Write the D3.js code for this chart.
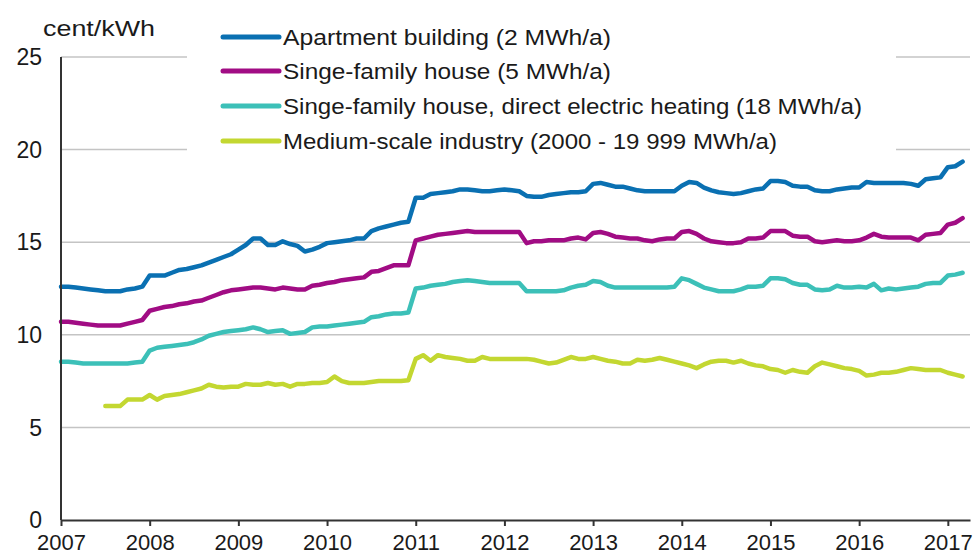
<!DOCTYPE html>
<html>
<head>
<meta charset="utf-8">
<script src="https://cdn.jsdelivr.net/npm/d3@7/dist/d3.min.js"></script>
<style>
  html, body { margin: 0; padding: 0; background: #fff; }
  svg { display: block; font-family: "Liberation Sans", Arial, sans-serif; }
</style>
</head>
<body>
<svg id="chart" width="977" height="557"></svg>
<script>
// ---- data (monthly, Jan 2007 .. Mar 2017) ----
const startYear = 2007;
const years = [2007, 2008, 2009, 2010, 2011, 2012, 2013, 2014, 2015, 2016, 2017];
const yTicks = [0, 5, 10, 15, 20, 25];
const seriesNames = [
  "Apartment building (2 MWh/a)",
  "Singe-family house (5 MWh/a)",
  "Singe-family house, direct electric heating (18 MWh/a)",
  "Medium-scale industry (2000 - 19 999 MWh/a)"
];
const seriesColors = ["#0a70b2", "#a10c84", "#3cc0b8", "#c3d731"];

const apartment = [
  12.6, 12.6, 12.55, 12.5, 12.45, 12.4, 12.35, 12.35, 12.35, 12.45, 12.5, 12.6,
  13.2, 13.2, 13.2, 13.35, 13.5, 13.55, 13.65, 13.75, 13.9, 14.05, 14.2, 14.35,
  14.6, 14.85, 15.2, 15.2, 14.85, 14.85, 15.05, 14.9, 14.8, 14.5, 14.6, 14.75,
  14.95, 15.0, 15.05, 15.1, 15.2, 15.2, 15.6, 15.75, 15.85, 15.95, 16.05, 16.1,
  17.4, 17.4, 17.6, 17.65, 17.7, 17.75, 17.85, 17.85, 17.8, 17.75, 17.75, 17.8,
  17.85, 17.8, 17.75, 17.5, 17.45, 17.45, 17.55, 17.6, 17.65, 17.7, 17.7, 17.75,
  18.15, 18.2, 18.1, 18.0, 18.0, 17.9, 17.8, 17.75, 17.75, 17.75, 17.75, 17.75,
  18.05, 18.25, 18.2, 17.95, 17.8, 17.7, 17.65, 17.6, 17.65, 17.75, 17.85, 17.9,
  18.3, 18.3, 18.25, 18.05, 18.0, 18.0, 17.8, 17.75, 17.75, 17.85, 17.9, 17.95,
  17.95, 18.25, 18.2, 18.2, 18.2, 18.2, 18.2, 18.15, 18.05, 18.4, 18.45, 18.5,
  19.05, 19.1, 19.35
];
const singleFamily = [
  10.7, 10.7, 10.65, 10.6, 10.55, 10.5, 10.5, 10.5, 10.5, 10.6, 10.7, 10.8,
  11.3, 11.4, 11.5, 11.55, 11.65, 11.7, 11.8, 11.85, 12.0, 12.15, 12.3, 12.4,
  12.45, 12.5, 12.55, 12.55, 12.5, 12.45, 12.55, 12.5, 12.45, 12.45, 12.65, 12.7,
  12.8, 12.85, 12.95, 13.0, 13.05, 13.1, 13.4, 13.45, 13.6, 13.75, 13.75, 13.75,
  15.1, 15.2, 15.3, 15.4, 15.45, 15.5, 15.55, 15.6, 15.55, 15.55, 15.55, 15.55,
  15.55, 15.55, 15.55, 14.95, 15.05, 15.05, 15.1, 15.1, 15.1, 15.2, 15.25, 15.15,
  15.5, 15.55, 15.45, 15.3, 15.25, 15.2, 15.2, 15.1, 15.05, 15.15, 15.2, 15.2,
  15.55, 15.6, 15.45, 15.2, 15.05, 15.0, 14.95, 14.95, 15.0, 15.2, 15.2, 15.25,
  15.6, 15.6, 15.6, 15.35, 15.3, 15.3, 15.05, 15.0, 15.05, 15.1, 15.05, 15.05,
  15.1, 15.25, 15.45, 15.3, 15.25, 15.25, 15.25, 15.25, 15.1, 15.4, 15.45, 15.5,
  15.95, 16.05, 16.3
];
const electricHeating = [
  8.55, 8.55, 8.5, 8.45, 8.45, 8.45, 8.45, 8.45, 8.45, 8.45, 8.5, 8.55,
  9.15, 9.3, 9.35, 9.4, 9.45, 9.5, 9.6, 9.75, 9.95, 10.05, 10.15, 10.2,
  10.25, 10.3, 10.4, 10.3, 10.15, 10.2, 10.25, 10.05, 10.1, 10.15, 10.4, 10.45,
  10.45, 10.5, 10.55, 10.6, 10.65, 10.7, 10.95, 11.0, 11.1, 11.15, 11.15, 11.2,
  12.5, 12.55, 12.65, 12.7, 12.75, 12.85, 12.9, 12.95, 12.9, 12.85, 12.8, 12.8,
  12.8, 12.8, 12.8, 12.35, 12.35, 12.35, 12.35, 12.35, 12.4, 12.55, 12.65, 12.7,
  12.9, 12.85, 12.65, 12.55, 12.55, 12.55, 12.55, 12.55, 12.55, 12.55, 12.55, 12.6,
  13.05, 12.95, 12.75, 12.55, 12.45, 12.35, 12.35, 12.35, 12.45, 12.6, 12.6, 12.65,
  13.05, 13.05, 13.0, 12.8, 12.7, 12.7, 12.45, 12.4, 12.45, 12.65, 12.55, 12.55,
  12.6, 12.55, 12.75, 12.4, 12.5, 12.45, 12.5, 12.55, 12.6, 12.75, 12.8, 12.8,
  13.2, 13.25, 13.35
];
const industry = [
  null, null, null, null, null, null, 6.15, 6.15, 6.15, 6.5, 6.5, 6.5,
  6.75, 6.5, 6.7, 6.75, 6.8, 6.9, 7.0, 7.1, 7.3, 7.2, 7.15, 7.2,
  7.2, 7.35, 7.3, 7.3, 7.4, 7.3, 7.35, 7.2, 7.35, 7.35, 7.4, 7.4,
  7.45, 7.75, 7.5, 7.4, 7.4, 7.4, 7.45, 7.5, 7.5, 7.5, 7.5, 7.55,
  8.7, 8.9, 8.6, 8.9, 8.8, 8.75, 8.7, 8.6, 8.6, 8.8, 8.7, 8.7,
  8.7, 8.7, 8.7, 8.7, 8.65, 8.55, 8.45, 8.5, 8.65, 8.8, 8.7, 8.7,
  8.8, 8.7, 8.6, 8.55, 8.45, 8.45, 8.65, 8.6, 8.65, 8.75, 8.65, 8.55,
  8.45, 8.35, 8.2, 8.4, 8.55, 8.6, 8.6, 8.5, 8.6, 8.45, 8.35, 8.3,
  8.15, 8.1, 7.95, 8.1, 8.0, 7.95, 8.3, 8.5, 8.4, 8.3, 8.2, 8.15,
  8.05, 7.8, 7.85, 7.95, 7.95, 8.0, 8.1, 8.2, 8.15, 8.1, 8.1, 8.1,
  7.95, 7.85, 7.75
];
const seriesValues = [apartment, singleFamily, electricHeating, industry];

// ---- layout ----
const svg = d3.select("#chart");
const x = d3.scaleLinear().domain([2007, 2017.25]).range([61, 970]);
const y = d3.scaleLinear().domain([0, 25]).range([520, 57]);
const textColor = "#1a1a1a";

// gridlines
svg.append("g").selectAll("line")
  .data(yTicks.filter(d => d > 0))
  .join("line")
  .attr("x1", x(2007)).attr("x2", x(2017.25))
  .attr("y1", d => y(d)).attr("y2", d => y(d))
  .attr("stroke", "#c4c4c4").attr("stroke-width", 1.5);

// y labels
svg.append("g").selectAll("text")
  .data(yTicks)
  .join("text")
  .attr("x", 42).attr("y", d => y(d))
  .attr("dy", "0.36em")
  .attr("text-anchor", "end")
  .attr("font-size", 23)
  .attr("fill", textColor)
  .text(d => d);

// unit
svg.append("text")
  .attr("x", 43).attr("y", 36)
  .attr("font-size", 22)
  .attr("fill", textColor)
  .attr("textLength", 112).attr("lengthAdjust", "spacingAndGlyphs")
  .text("cent/kWh");

// lines
const line = d3.line()
  .defined(d => d.v != null)
  .x(d => x(d.t))
  .y(d => y(d.v));

seriesValues.forEach((vals, k) => {
  const pts = vals.map((v, i) => ({ t: startYear + i / 12, v }));
  svg.append("path")
    .datum(pts)
    .attr("d", line)
    .attr("fill", "none")
    .attr("stroke", seriesColors[k])
    .attr("stroke-width", 4.5)
    .attr("stroke-linejoin", "round")
    .attr("stroke-linecap", "round");
});

// axes
svg.append("line")
  .attr("x1", x(2007)).attr("x2", x(2007))
  .attr("y1", y(25)).attr("y2", y(0))
  .attr("stroke", "#333").attr("stroke-width", 2);

const xAxis = d3.axisBottom(x)
  .tickValues(years)
  .tickFormat(d3.format("d"))
  .tickSize(6)
  .tickSizeOuter(0);
const gx = svg.append("g")
  .attr("transform", `translate(0,${y(0)})`)
  .call(xAxis);
gx.select(".domain").attr("stroke", "#333").attr("stroke-width", 2);
gx.selectAll(".tick line").attr("stroke", "#333").attr("stroke-width", 2);
gx.selectAll(".tick text")
  .attr("font-size", 22)
  .attr("font-family", "Liberation Sans, Arial, sans-serif")
  .attr("fill", textColor)
  .attr("dy", "0.95em");

// legend
const legend = svg.append("g");
legend.append("rect")
  .attr("x", 187).attr("y", 12).attr("width", 709).attr("height", 148)
  .attr("fill", "#fff");
const legendY = [37, 71, 106, 141];
const legendW = [328, 328, 579, 494];
seriesNames.forEach((name, k) => {
  legend.append("line")
    .attr("x1", 223).attr("x2", 279)
    .attr("y1", legendY[k]).attr("y2", legendY[k])
    .attr("stroke", seriesColors[k]).attr("stroke-width", 5)
    .attr("stroke-linecap", "round");
  legend.append("text")
    .attr("x", 283).attr("y", legendY[k])
    .attr("dy", "0.36em")
    .attr("font-size", 22)
    .attr("fill", textColor)
    .attr("textLength", legendW[k]).attr("lengthAdjust", "spacingAndGlyphs")
    .text(name);
});
</script>
</body>
</html>
